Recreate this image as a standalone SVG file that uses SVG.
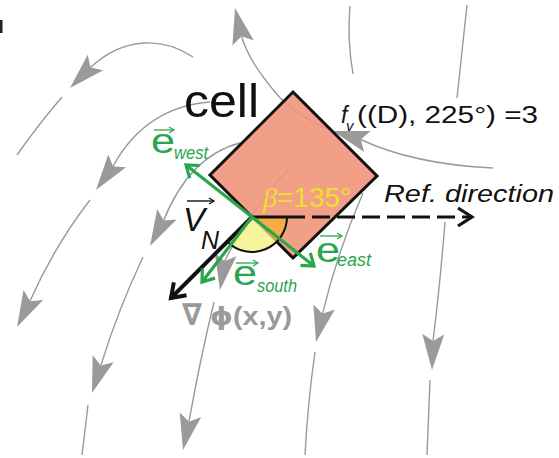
<svg xmlns="http://www.w3.org/2000/svg" width="559" height="458" viewBox="0 0 559 458">
<defs>
<style>
.sl{fill:none;stroke:#9a9a9a;stroke-width:1.4}
.ah{fill:#9a9a9a}
.t{font-family:"Liberation Sans",Arial,"DejaVu Sans",sans-serif}
.it{font-style:italic}
.gr{fill:#29A64B}
.garrow{fill:none;stroke:#29A64B;stroke-width:3.2}
.vec{fill:none;stroke:#29A64B;stroke-width:1.3}
</style>
<path id="gh" d="M0,0 L-36,-11 L-29,0 L-36,11 Z"/>
<marker id="mg" viewBox="-14 -10 16 20" refX="0" refY="0" markerWidth="16" markerHeight="20" markerUnits="userSpaceOnUse" orient="auto" overflow="visible">
<path d="M-11,-8 L0,0 L-11,8" fill="none" stroke="#29A64B" stroke-width="3.2"/>
</marker>
<marker id="mk" viewBox="-16 -12 18 24" refX="0" refY="0" markerWidth="18" markerHeight="24" markerUnits="userSpaceOnUse" orient="auto" overflow="visible">
<path d="M-13,-9 L0,0 L-13,9" fill="none" stroke="#111" stroke-width="4"/>
</marker>
<marker id="mr" viewBox="-16 -12 18 24" refX="0" refY="0" markerWidth="18" markerHeight="24" markerUnits="userSpaceOnUse" orient="auto" overflow="visible">
<path d="M-14,-9 L0,0 L-14,9" fill="none" stroke="#111" stroke-width="3.2"/>
</marker>
<marker id="ms" viewBox="-6 -4 7 8" refX="0" refY="0" markerWidth="7" markerHeight="8" markerUnits="userSpaceOnUse" orient="auto" overflow="visible">
<path d="M-5,-3 L0,0 L-5,3" fill="none" stroke="#29A64B" stroke-width="1.2"/>
</marker>
<marker id="msk" viewBox="-6 -4 7 8" refX="0" refY="0" markerWidth="7" markerHeight="8" markerUnits="userSpaceOnUse" orient="auto" overflow="visible">
<path d="M-5,-3 L0,0 L-5,3" fill="none" stroke="#111" stroke-width="1.3"/>
</marker>
</defs>
<rect width="559" height="458" fill="#fff"/>
<rect x="0" y="20" width="2.5" height="13" fill="#222"/>

<g id="connectors">
<path class="sl" d="M193,57 C165,38 125,35 90.5,67.5"/>
<path class="sl" d="M62,97 Q38,125 17,155"/>
<path class="sl" d="M210,102 C170,105 135,125 113,166.5"/>
<path class="sl" d="M90,200 Q55,245 30,301"/>
<path class="sl" d="M240,143 C205,152 180,180 163.6,220.4"/>
<path class="sl" d="M143,257 Q118,310 101,365"/>
<path class="sl" d="M88,405 L82,455"/>
<path class="sl" d="M288,170 Q250,210 224.5,261.4"/>
<path class="sl" d="M214,302 Q200,360 189,421.6"/>
<path class="sl" d="M363,193 Q338,250 322.5,313.8"/>
<path class="sl" d="M315,352 Q308,400 305,455"/>
<path class="sl" d="M467,5 Q462,50 457,98"/>
<path class="sl" d="M445,222 Q440,285 433,341"/>
<path class="sl" d="M430,380 L427,455"/>
<path class="sl" d="M350,6 Q347,40 353,74"/>
<path class="sl" d="M493,168 C450,166 400,158 360.7,139.5"/>
<path class="sl" d="M333,131 C310,122 288,108 275,92 C262,76 248,58 241.5,36.2"/>
<use href="#gh" class="ah" transform="translate(70,88) rotate(135)"/>
<use href="#gh" class="ah" transform="translate(96,190) rotate(126)"/>
<use href="#gh" class="ah" transform="translate(17,327) rotate(117)"/>
<use href="#gh" class="ah" transform="translate(150,246) rotate(118)"/>
<use href="#gh" class="ah" transform="translate(92,393) rotate(108)"/>
<use href="#gh" class="ah" transform="translate(220,290) rotate(99)"/>
<use href="#gh" class="ah" transform="translate(183,450) rotate(102)"/>
<use href="#gh" class="ah" transform="translate(316,342) rotate(103)"/>
<use href="#gh" class="ah" transform="translate(432,370) rotate(92)"/>
<use href="#gh" class="ah" transform="translate(333,131) rotate(197)"/>
<use href="#gh" class="ah" transform="translate(235,8) rotate(257)"/>
</g>

<g id="cell">
<polygon points="293,92 377,176 293,258 210,175" fill="#F0967A" fill-opacity="0.9" stroke="#111" stroke-width="3" stroke-linejoin="miter"/>
<text class="t" x="184" y="117" font-size="47" fill="#111" textLength="75" lengthAdjust="spacingAndGlyphs">cell</text>
</g>

<g id="angle">
<path d="M252,217 L287,217 A35,35 0 0 1 276.7,241.7 Z" fill="#F4AE3E" fill-opacity="0.92"/>
<path d="M252,217 L276.7,241.7 A35,35 0 0 1 227.3,241.7 Z" fill="#F7F290" fill-opacity="0.88"/>
<path d="M287,217 A35,35 0 0 1 227.3,241.7" fill="none" stroke="#111" stroke-width="2"/>
<text x="263" y="207" font-size="28" fill="#EEDF2C"><tspan font-family="Liberation Serif,serif" font-style="italic">β</tspan><tspan font-family="Liberation Sans,Arial,sans-serif">=135°</tspan></text>
</g>

<g id="ref-direction">
<line x1="252" y1="217" x2="287" y2="217" stroke="#111" stroke-width="3"/>
<line x1="287" y1="217" x2="472" y2="217" stroke="#111" stroke-width="3" stroke-dasharray="18 7" marker-end="url(#mr)"/>
<text class="t it" x="384" y="202" font-size="23" fill="#111" textLength="170" lengthAdjust="spacingAndGlyphs">Ref. direction</text>
</g>

<g id="fv-label">
<text class="t it" x="341" y="123" font-size="23" fill="#111">f</text>
<text class="t it" x="346" y="131" font-size="15" fill="#111">v</text>
<text class="t" x="357" y="123" font-size="23" fill="#111" textLength="181" lengthAdjust="spacingAndGlyphs">((D), 225°) =3</text>
</g>

<g id="vn">
<line x1="252" y1="217" x2="171" y2="298" stroke="#111" stroke-width="4" marker-end="url(#mk)"/>
<line x1="187" y1="201" x2="214" y2="201" stroke="#111" stroke-width="1.4" marker-end="url(#msk)"/>
<text class="t it" x="183" y="231" font-size="33" fill="#111">V</text>
<text class="t it" x="201" y="249" font-size="25" fill="#111">N</text>
</g>

<g id="e-west">
<line class="garrow" x1="252" y1="217" x2="186" y2="165" marker-end="url(#mg)"/>
<line class="vec" x1="154" y1="130" x2="174" y2="130" marker-end="url(#ms)"/>
<text class="t gr" x="151" y="153" font-size="35" textLength="24" lengthAdjust="spacingAndGlyphs">e</text>
<text class="t it gr" x="174" y="159" font-size="18" textLength="34" lengthAdjust="spacingAndGlyphs">west</text>
</g>

<g id="e-east">
<line class="garrow" x1="252" y1="217" x2="314" y2="266" marker-end="url(#mg)"/>
<line class="vec" x1="320" y1="236" x2="342" y2="236" marker-end="url(#ms)"/>
<text class="t gr" x="316" y="262" font-size="35" textLength="24" lengthAdjust="spacingAndGlyphs">e</text>
<text class="t it gr" x="337" y="266" font-size="18" textLength="34" lengthAdjust="spacingAndGlyphs">east</text>
</g>

<g id="e-south">
<line class="garrow" x1="252" y1="217" x2="202" y2="282" marker-end="url(#mg)"/>
<line class="vec" x1="236" y1="263" x2="258" y2="263" marker-end="url(#ms)"/>
<text class="t gr" x="233" y="285" font-size="35" textLength="24" lengthAdjust="spacingAndGlyphs">e</text>
<text class="t it gr" x="257" y="292" font-size="18" textLength="40" lengthAdjust="spacingAndGlyphs">south</text>
</g>

<g id="gradient-label">
<text x="182" y="325" font-size="30" font-weight="bold" fill="#9a9a9a" font-family="DejaVu Sans,sans-serif" textLength="20" lengthAdjust="spacingAndGlyphs">∇</text>
<text x="210" y="325" font-size="25" font-weight="bold" fill="#9a9a9a" font-family="Liberation Sans,Arial,DejaVu Sans,sans-serif" textLength="82" lengthAdjust="spacingAndGlyphs"><tspan font-family="DejaVu Sans,sans-serif">ϕ</tspan>(x,y)</text>
</g>
</svg>
